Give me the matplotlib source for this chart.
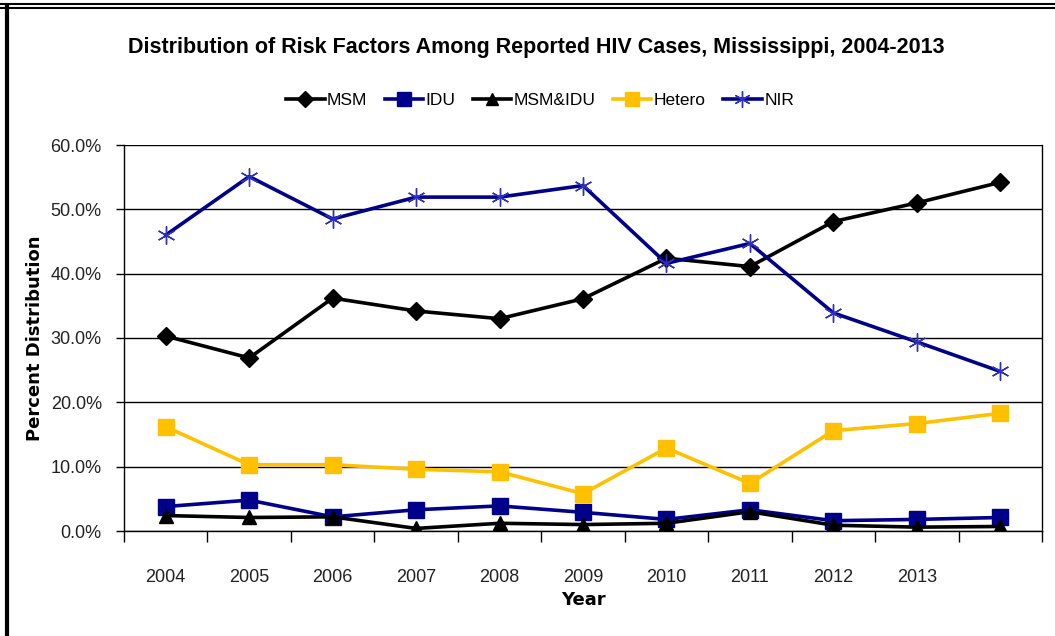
import matplotlib.pyplot as plt
import matplotlib.ticker as ticker
from matplotlib.lines import Line2D

years = ["2004", "2005", "2006", "2007", "2008", "2009", "2010", "2011", "2012", "2013", ""]

msm = [30.3, 26.9, 36.2, 34.2, 33.0, 36.1, 42.4, 41.1, 48.1, 51.0, 54.2]
idu = [3.8, 4.8, 2.2, 3.3, 3.9, 2.9, 1.8, 3.3, 1.6, 1.8, 2.1]
msm_idu = [2.4, 2.1, 2.2, 0.4, 1.2, 1.0, 1.2, 3.0, 0.9, 0.6, 0.7]
hetero = [16.2, 10.3, 10.3, 9.6, 9.2, 5.8, 12.9, 7.4, 15.6, 16.7, 18.3]
nir = [46.0, 55.1, 48.5, 51.9, 51.9, 53.7, 41.6, 44.7, 33.9, 29.4, 24.8]

font = "Liberation Sans"
navy = "#00008B"
gold = "#FFC000"

fig = plt.figure(figsize=(10.55, 6.36), dpi=100)
ax = fig.add_axes([124 / 1055, 105 / 636, 918 / 1055, 386 / 636])

x = list(range(len(years)))
ax.plot(x, msm, color="black", lw=2.6, marker="D", ms=9, label="MSM", zorder=5)
ax.plot(x, idu, color=navy, lw=2.6, marker="s", ms=11, label="IDU", zorder=5)
ax.plot(x, msm_idu, color="black", lw=2.6, marker="^", ms=10, label="MSM&IDU", zorder=6)
ax.plot(x, hetero, color=gold, lw=2.6, marker="s", ms=11, label="Hetero", zorder=5)
ax.plot(x, nir, color=navy, lw=2.6, marker=(6, 2, 0), ms=13, mew=1.0,
        mec="#3030C0", label="NIR", zorder=5)

ax.set_xlim(-0.5, len(years) - 0.5)
ax.set_ylim(0, 60)
ax.yaxis.set_major_locator(ticker.MultipleLocator(10))
ax.yaxis.set_major_formatter(ticker.FuncFormatter(lambda v, p: f"{v:.1f}%"))
ax.grid(axis="y", color="black", lw=1.0)
ax.set_axisbelow(True)

# category labels sit between boundary ticks
ax.set_xticks([i - 0.5 for i in range(len(years) + 1)])
ax.set_xticklabels([])
ax.set_xticks(x, minor=True)
ax.set_xticklabels(years, minor=True, fontsize=13, family=font, color="#222222")
ax.tick_params(axis="x", which="major", length=8, width=1, direction="out")
ax.tick_params(axis="x", which="minor", length=0, pad=27)
ax.tick_params(axis="y", length=6, width=1, pad=10)
for lab in ax.get_yticklabels():
    lab.set_family(font)
    lab.set_fontsize(13)
    lab.set_color("#222222")

ax.spines["top"].set_visible(False)
for s in ["left", "right", "bottom"]:
    ax.spines[s].set_color("black")
    ax.spines[s].set_linewidth(1.0)

ax.set_ylabel("Percent Distribution", fontsize=13, fontweight="bold", family="DejaVu Sans")
ax.yaxis.set_label_coords((44 - 124) / 918, 0.5)
ax.set_xlabel("Year", fontsize=13, fontweight="bold", family="DejaVu Sans", labelpad=4)

fig.text(0.508, 0.926, "Distribution of Risk Factors Among Reported HIV Cases, Mississippi, 2004-2013",
         ha="center", va="center", fontsize=15.5, fontweight="bold", family=font)

fig.legend(loc="center", bbox_to_anchor=(0.512, 0.842), ncol=5, frameon=False,
           prop={"family": font, "size": 12.5}, handlelength=2.2, columnspacing=1.0,
           handletextpad=0.15, markerscale=0.9)

# outer frame: thick left edge and double top line
fig.add_artist(Line2D([6.5 / 1055, 6.5 / 1055], [0, 1 - 6 / 636], color="black", lw=3, transform=fig.transFigure))
fig.add_artist(Line2D([0, 1], [1 - 4 / 636, 1 - 4 / 636], color="black", lw=1.5, transform=fig.transFigure))
fig.add_artist(Line2D([0, 1], [1 - 8 / 636, 1 - 8 / 636], color="black", lw=1.5, transform=fig.transFigure))

fig.savefig("out.png", dpi=100)
